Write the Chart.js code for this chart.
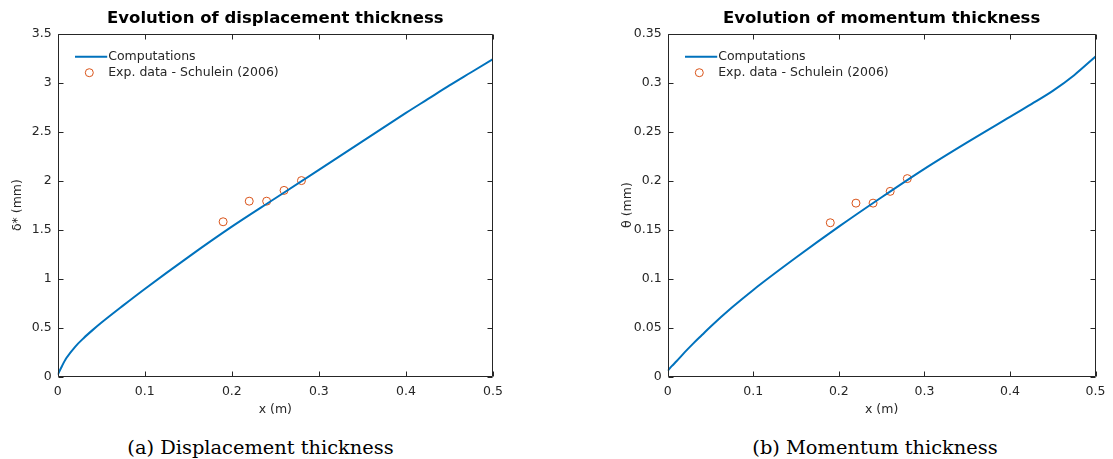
<!DOCTYPE html>
<html><head><meta charset="utf-8">
<script src="https://cdn.jsdelivr.net/npm/chart.js@4.4.1/dist/chart.umd.min.js"></script>
<style>
html,body{margin:0;padding:0;background:#fff;overflow:hidden;width:1113px;height:459px;}
.wrap{position:absolute;top:0;height:420px;}
.cap{position:absolute;top:436px;width:400px;font-family:"DejaVu Serif",serif;font-size:19.4px;color:#000;white-space:nowrap;text-align:center;line-height:24px;}
</style></head><body>
<div class="wrap" style="left:0;width:600px"><canvas id="c1" width="600" height="420"></canvas></div>
<div class="wrap" style="left:600px;width:513px"><canvas id="c2" width="513" height="420"></canvas></div>
<div class="cap" style="left:60.5px">(a) Displacement thickness</div>
<div class="cap" style="left:675px">(b) Momentum thickness</div>
<script>
// ---- data ----
const xComp      = [0, 0.005, 0.01, 0.02, 0.03, 0.04, 0.05, 0.075, 0.1, 0.15, 0.2, 0.25, 0.3, 0.35, 0.4, 0.425, 0.45, 0.475, 0.5];
const deltaComp  = [0.02, 0.11, 0.19, 0.305, 0.395, 0.475, 0.55, 0.725, 0.895, 1.22, 1.53, 1.82, 2.11, 2.40, 2.69, 2.83, 2.97, 3.105, 3.24];
const thetaComp  = [0.006, 0.011, 0.0155, 0.025, 0.034, 0.0425, 0.051, 0.0705, 0.0885, 0.1215, 0.153, 0.183, 0.212, 0.239, 0.265, 0.278, 0.2915, 0.3075, 0.3265];
const xExp       = [0.19, 0.22, 0.24, 0.26, 0.28];
const deltaExp   = [1.58, 1.79, 1.79, 1.90, 2.00];
const thetaExp   = [0.157, 0.177, 0.177, 0.189, 0.202];

const xTicks      = [0, 0.1, 0.2, 0.3, 0.4, 0.5];
const xTickLabels = ['0', '0.1', '0.2', '0.3', '0.4', '0.5'];
const deltaTicks      = [0, 0.5, 1, 1.5, 2, 2.5, 3, 3.5];
const deltaTickLabels = ['0', '0.5', '1', '1.5', '2', '2.5', '3', '3.5'];
const thetaTicks      = [0, 0.05, 0.1, 0.15, 0.2, 0.25, 0.3, 0.35];
const thetaTickLabels = ['0', '0.05', '0.1', '0.15', '0.2', '0.25', '0.3', '0.35'];

const seriesLabels = ['Computations', 'Exp. data - Schulein (2006)'];
const titles = ['Evolution of displacement thickness', 'Evolution of momentum thickness'];
const yTitles = ['\u03B4* (mm)', '\u03B8 (mm)'];
const xTitle = 'x (m)';

const AX = '#262626';
const FONT = '"DejaVu Sans", sans-serif';
const FS = 12.5;

const frame = {
  id: 'frame',
  afterDraw(chart, args, opts) {
    const {ctx, chartArea: a, scales: {x, y}} = chart;
    const L = Math.round(a.left) + 0.5, R = Math.round(a.right) - 0.5;
    const T = Math.round(a.top) + 0.5, B = Math.round(a.bottom) - 0.5;
    ctx.save();
    ctx.strokeStyle = AX; ctx.lineWidth = 1;
    ctx.beginPath();
    ctx.rect(L, T, R - L, B - T);
    const tl = 5;
    x.ticks.forEach(t => {
      const p = Math.round(x.getPixelForValue(t.value)) + 0.5;
      ctx.moveTo(p, B); ctx.lineTo(p, B - tl);
      ctx.moveTo(p, T); ctx.lineTo(p, T + tl);
    });
    y.ticks.forEach(t => {
      const p = Math.round(y.getPixelForValue(t.value)) + 0.5;
      ctx.moveTo(L, p); ctx.lineTo(L + tl, p);
      ctx.moveTo(R, p); ctx.lineTo(R - tl, p);
    });
    ctx.stroke();
    // title
    ctx.fillStyle = '#000';
    ctx.font = 'bold 16.5px ' + FONT;
    ctx.textAlign = 'center'; ctx.textBaseline = 'middle';
    ctx.fillText(opts.title, (a.left + a.right) / 2, 19);
    // legend
    const d0 = chart.data.datasets[0], d1 = chart.data.datasets[1];
    const ly1 = a.top + 23.2, ly2 = a.top + 39.2;
    ctx.strokeStyle = d0.borderColor; ctx.lineWidth = d0.borderWidth;
    ctx.beginPath(); ctx.moveTo(a.left + 17.3, ly1); ctx.lineTo(a.left + 49.5, ly1); ctx.stroke();
    ctx.strokeStyle = d1.borderColor; ctx.lineWidth = d1.borderWidth;
    ctx.beginPath(); ctx.arc(a.left + 31.6, ly2, d1.pointRadius, 0, Math.PI * 2); ctx.stroke();
    ctx.fillStyle = AX; ctx.font = FS + 'px ' + FONT; ctx.textAlign = 'left';
    ctx.fillText(d0.label, a.left + 50.5, ly1);
    ctx.fillText(d1.label, a.left + 50.5, ly2);
    ctx.restore();
  }
};

function makeChart(id, yComp, yExp, yTicks, yTickLabels, yMax, title, yTitle, yWidth, yTitlePad, padRight) {
  return new Chart(document.getElementById(id), {
    type: 'scatter',
    data: {
      datasets: [
        { label: seriesLabels[0], data: xComp.map((v, i) => ({x: v, y: yComp[i]})),
          showLine: true, borderColor: '#0072BD', borderWidth: 2, pointRadius: 0,
          cubicInterpolationMode: 'monotone', fill: false },
        { label: seriesLabels[1], data: xExp.map((v, i) => ({x: v, y: yExp[i]})),
          showLine: false, borderColor: '#D95319', backgroundColor: 'rgba(0,0,0,0)',
          borderWidth: 1, pointRadius: 4, pointStyle: 'circle' }
      ]
    },
    options: {
      responsive: false, animation: false, devicePixelRatio: 1,
      layout: { padding: { top: 33.5, left: 0, right: padRight, bottom: 0 } },
      plugins: { legend: { display: false }, tooltip: { enabled: false }, frame: { title } },
      scales: {
        x: {
          type: 'linear', min: 0, max: 0.5,
          afterBuildTicks: s => { s.ticks = xTicks.map(v => ({value: v})); },
          afterFit: s => { s.height = 43.3; },
          grid: { display: false, drawTicks: false }, border: { display: false },
          ticks: { padding: 7.5, color: AX, font: { family: FONT, size: FS }, maxRotation: 0,
                   autoSkip: false, callback: (v, i) => xTickLabels[i] },
          title: { display: true, text: xTitle, color: AX, font: { family: FONT, size: FS },
                   padding: { top: 0, bottom: 2.5 } }
        },
        y: {
          type: 'linear', min: 0, max: yMax,
          afterBuildTicks: s => { s.ticks = yTicks.map(v => ({value: v})); },
          afterFit: s => { s.width = yWidth; },
          grid: { display: false, drawTicks: false }, border: { display: false },
          ticks: { padding: 6, color: AX, font: { family: FONT, size: FS },
                   autoSkip: false, callback: (v, i) => yTickLabels[i] },
          title: { display: true, text: yTitle, color: AX, font: { family: FONT, size: FS },
                   padding: { top: yTitlePad, bottom: 0 } }
        }
      }
    },
    plugins: [frame]
  });
}

makeChart('c1', deltaComp, deltaExp, deltaTicks, deltaTickLabels, 3.5, titles[0], yTitles[0], 57.7, 10.5, 107);
makeChart('c2', thetaComp, thetaExp, thetaTicks, thetaTickLabels, 0.35, titles[1], yTitles[1], 67.7, 20.5, 11.3);
</script>
</body></html>
